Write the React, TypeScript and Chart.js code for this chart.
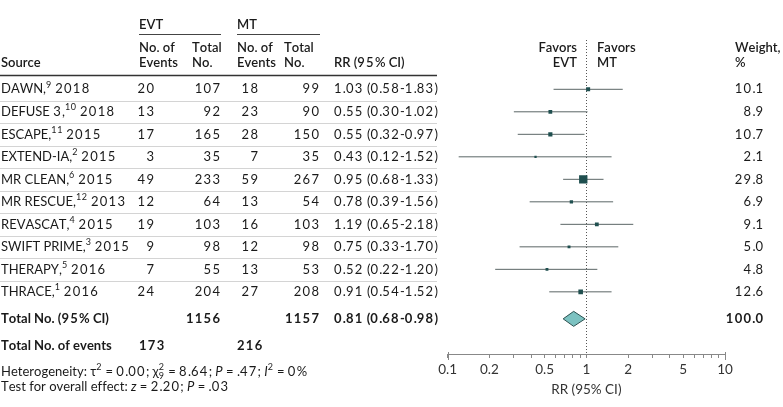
import React, { useEffect, useRef } from 'react';
import { Chart, registerables } from 'chart.js';

Chart.register(...registerables);

// ---------- data ----------
const studies = ['DAWN', 'DEFUSE 3', 'ESCAPE', 'EXTEND-IA', 'MR CLEAN', 'MR RESCUE', 'REVASCAT', 'SWIFT PRIME', 'THERAPY', 'THRACE'];
const refs = ['9', '10', '11', '2', '6', '12', '4', '3', '5', '1'];
const years = ['2018', '2018', '2015', '2015', '2015', '2013', '2015', '2015', '2016', '2016'];
const evtEvents = [20, 13, 17, 3, 49, 12, 19, 9, 7, 24];
const evtTotal = [107, 92, 165, 35, 233, 64, 103, 98, 55, 204];
const mtEvents = [18, 23, 28, 7, 59, 13, 16, 12, 13, 27];
const mtTotal = [99, 90, 150, 35, 267, 54, 103, 98, 53, 208];
const rr = [1.03, 0.55, 0.55, 0.43, 0.95, 0.78, 1.19, 0.75, 0.52, 0.91];
const ciLow = [0.58, 0.30, 0.32, 0.12, 0.68, 0.39, 0.65, 0.33, 0.22, 0.54];
const ciHigh = [1.83, 1.02, 0.97, 1.52, 1.33, 1.56, 2.18, 1.70, 1.20, 1.52];
const weights = [10.1, 8.9, 10.7, 2.1, 29.8, 6.9, 9.1, 5.0, 4.8, 12.6];
const pooledRR = [0.81, 0.68, 0.98]; // estimate, low, high
const totalNo = [1156, 1157]; // EVT, MT
const totalEvents = [173, 216]; // EVT, MT
const totalWeight = 100.0;
const axisTicks = [0.1, 0.2, 0.3, 0.4, 0.5, 0.6, 0.7, 0.8, 0.9, 1, 2, 3, 4, 5, 6, 7, 8, 9, 10];
const axisLabels = [0.1, 0.2, 0.5, 1, 2, 5, 10];

// ---------- layout ----------
const W = 783;
const H = 407;
const FONT = 'Lato, "DejaVu Sans", sans-serif';
const FS = 13;
const DIGIT_EXTRA = 1.3;
const TEXT = '#1a1a1a';
const ROW_TOTAL = 10.2;
const ROW_EVENTS = 11.4;
const TABLE_RIGHT = 437;

type Seg = { t?: string; i?: boolean; sup?: boolean; stack?: [string, string] };

const isDigit = (c: string) => c >= '0' && c <= '9';

function measureSpaced(ctx: CanvasRenderingContext2D, s: string, extra: number) {
  let w = 0;
  for (const ch of s) w += ctx.measureText(ch).width + (isDigit(ch) ? extra : 0);
  return w;
}

function drawSpaced(ctx: CanvasRenderingContext2D, s: string, x: number, y: number, extra: number) {
  let cx = x;
  ctx.textAlign = 'left';
  for (const ch of s) {
    ctx.fillText(ch, cx, y);
    cx += ctx.measureText(ch).width + (isDigit(ch) ? extra : 0);
  }
  return cx - x;
}

function drawRich(ctx: CanvasRenderingContext2D, segs: Seg[], x: number, y: number, weight = 400) {
  const base = `${weight} ${FS}px ${FONT}`;
  const small = `${weight} 9px ${FONT}`;
  let cx = x;
  ctx.textBaseline = 'middle';
  for (const s of segs) {
    if (s.stack) {
      ctx.font = small;
      const w = Math.max(ctx.measureText(s.stack[0]).width, ctx.measureText(s.stack[1]).width);
      ctx.textAlign = 'left';
      ctx.fillText(s.stack[0], cx, y - 4.5);
      ctx.fillText(s.stack[1], cx, y + 4);
      cx += w + 0.8;
    } else {
      ctx.font = s.sup ? small : s.i ? `italic ${base}` : base;
      cx += drawSpaced(ctx, s.t || '', cx, y + (s.sup ? -4.5 : 0), s.sup ? 0.6 : DIGIT_EXTRA);
    }
  }
}

function txt(ctx: CanvasRenderingContext2D, s: string, x: number, y: number, align: 'left' | 'right' = 'left', weight = 400) {
  ctx.font = `${weight} ${FS}px ${FONT}`;
  ctx.textBaseline = 'middle';
  let sx = x;
  if (align === 'right') {
    let w = measureSpaced(ctx, s, DIGIT_EXTRA);
    if (isDigit(s[s.length - 1])) w -= DIGIT_EXTRA;
    sx = x - w;
  }
  drawSpaced(ctx, s, sx, y, DIGIT_EXTRA);
}

function hline(ctx: CanvasRenderingContext2D, x1: number, x2: number, y: number, color: string, lw: number) {
  ctx.save();
  ctx.strokeStyle = color;
  ctx.lineWidth = lw;
  ctx.beginPath();
  ctx.moveTo(x1, y);
  ctx.lineTo(x2, y);
  ctx.stroke();
  ctx.restore();
}

const fmtCI = (a: number, b: number, c: number) => `${a.toFixed(2)} (${b.toFixed(2)}-${c.toFixed(2)})`;

const forestPlugin = {
  id: 'forestTable',
  beforeDatasetsDraw(chart: any) {
    const ctx: CanvasRenderingContext2D = chart.ctx;
    const xs = chart.scales.x;
    const area = chart.chartArea;
    const x1 = Math.round(xs.getPixelForValue(1)) + 0.5;
    ctx.save();
    ctx.strokeStyle = '#555';
    ctx.lineWidth = 1;
    ctx.setLineDash([1, 2]);
    ctx.beginPath();
    ctx.moveTo(x1, area.top);
    ctx.lineTo(x1, area.bottom);
    ctx.stroke();
    ctx.restore();
  },
  afterDraw(chart: any) {
    const ctx: CanvasRenderingContext2D = chart.ctx;
    const xs = chart.scales.x;
    const ys = chart.scales.y;
    const area = chart.chartArea;
    ctx.save();

    // longer end ticks on the axis
    ctx.strokeStyle = '#888';
    ctx.lineWidth = 1;
    [axisTicks[0], axisTicks[axisTicks.length - 1]].forEach((v) => {
      const px = Math.round(xs.getPixelForValue(v)) + 0.5;
      ctx.beginPath();
      ctx.moveTo(px, area.bottom - 2);
      ctx.lineTo(px, area.bottom + 6);
      ctx.stroke();
    });

    ctx.fillStyle = TEXT;
    // header
    txt(ctx, 'EVT', 139, 25, 'left', 600);
    txt(ctx, 'MT', 237, 25, 'left', 600);
    hline(ctx, 139, 221, 34.5, '#444', 1);
    hline(ctx, 237, 320, 34.5, '#444', 1);
    txt(ctx, 'No. of', 139, 48, 'left', 600);
    txt(ctx, 'Events', 139, 63, 'left', 600);
    txt(ctx, 'Total', 192, 48, 'left', 600);
    txt(ctx, 'No.', 192, 63, 'left', 600);
    txt(ctx, 'No. of', 237, 48, 'left', 600);
    txt(ctx, 'Events', 237, 63, 'left', 600);
    txt(ctx, 'Total', 284, 48, 'left', 600);
    txt(ctx, 'No.', 284, 63, 'left', 600);
    txt(ctx, 'Source', 1, 63, 'left', 600);
    txt(ctx, 'RR (95% CI)', 334, 63, 'left', 600);
    txt(ctx, 'Favors', 577, 48, 'right', 600);
    txt(ctx, 'EVT', 577, 63, 'right', 600);
    txt(ctx, 'Favors', 597, 48, 'left', 600);
    txt(ctx, 'MT', 597, 63, 'left', 600);
    txt(ctx, 'Weight,', 735, 48, 'left', 600);
    txt(ctx, '%', 735, 63, 'left', 600);
    hline(ctx, 0, TABLE_RIGHT, 75.5, '#333', 1.5);

    // rows
    studies.forEach((name, i) => {
      const y = ys.getPixelForValue(i);
      ctx.fillStyle = TEXT;
      drawRich(ctx, [{ t: name + ',' }, { t: refs[i], sup: true }, { t: ' ' + years[i] }], 1, y);
      txt(ctx, String(evtEvents[i]), 154, y, 'right');
      txt(ctx, String(evtTotal[i]), 220, y, 'right');
      txt(ctx, String(mtEvents[i]), 258, y, 'right');
      txt(ctx, String(mtTotal[i]), 319, y, 'right');
      txt(ctx, fmtCI(rr[i], ciLow[i], ciHigh[i]), 334, y, 'left');
      txt(ctx, weights[i].toFixed(1), 763, y, 'right');
      if (i < studies.length - 1) {
        const ys2 = Math.round(ys.getPixelForValue(i + 0.5)) + 0.5;
        hline(ctx, 0, TABLE_RIGHT, ys2, '#d4d4d4', 1);
      }
    });

    // totals
    ctx.fillStyle = TEXT;
    const yt = ys.getPixelForValue(ROW_TOTAL);
    txt(ctx, 'Total No. (95% CI)', 1, yt, 'left', 700);
    txt(ctx, String(totalNo[0]), 220, yt, 'right', 700);
    txt(ctx, String(totalNo[1]), 319, yt, 'right', 700);
    txt(ctx, fmtCI(pooledRR[0], pooledRR[1], pooledRR[2]), 334, yt, 'left', 700);
    txt(ctx, totalWeight.toFixed(1), 763, yt, 'right', 700);
    const ye = ys.getPixelForValue(ROW_EVENTS);
    txt(ctx, 'Total No. of events', 1, ye, 'left', 700);
    txt(ctx, String(totalEvents[0]), 139, ye, 'left', 700);
    txt(ctx, String(totalEvents[1]), 237, ye, 'left', 700);

    // footnotes
    drawRich(ctx, [
      { t: 'Heterogeneity: τ' }, { t: '2', sup: true }, { t: ' = 0.00; χ' }, { stack: ['2', '9'] },
      { t: ' = 8.64; ' }, { t: 'P', i: true }, { t: ' = .47; ' }, { t: 'I', i: true }, { t: '2', sup: true }, { t: ' = 0%' },
    ], 1, 372);
    drawRich(ctx, [
      { t: 'Test for overall effect: ' }, { t: 'z', i: true }, { t: ' = 2.20; ' }, { t: 'P', i: true }, { t: ' = .03' },
    ], 1, 387);

    // pooled diamond
    const xl = xs.getPixelForValue(pooledRR[1]);
    const xm = xs.getPixelForValue(pooledRR[0]);
    const xh = xs.getPixelForValue(pooledRR[2]);
    ctx.beginPath();
    ctx.moveTo(xl, yt);
    ctx.lineTo(xm, yt - 7.5);
    ctx.lineTo(xh, yt);
    ctx.lineTo(xm, yt + 7.5);
    ctx.closePath();
    ctx.fillStyle = '#7cc2c1';
    ctx.fill();
    ctx.strokeStyle = '#2c5150';
    ctx.lineWidth = 1;
    ctx.stroke();
    ctx.restore();
  },
};

export default function App() {
  const ref = useRef<HTMLCanvasElement | null>(null);
  useEffect(() => {
    if (!ref.current) return;
    const whiskers = studies.map((_, i) => ({
      data: [{ x: ciLow[i], y: i }, { x: ciHigh[i], y: i }],
      showLine: true,
      borderColor: '#5b6666',
      borderWidth: 1,
      pointRadius: 0,
      order: 2,
    }));
    const points = {
      data: studies.map((_, i) => ({ x: rr[i], y: i })),
      pointStyle: 'rect',
      pointRadius: weights.map((w) => (1.8 + 0.22 * w) / Math.SQRT2),
      backgroundColor: '#1f4f4f',
      borderWidth: 0,
      order: 1,
    };
    const chart = new Chart(ref.current, {
      type: 'scatter',
      data: { datasets: [...whiskers, points] as any },
      options: {
        animation: false,
        responsive: false,
        devicePixelRatio: 1,
        layout: { padding: { left: 447.7, right: 58, top: 40, bottom: 0 } },
        plugins: { legend: { display: false }, tooltip: { enabled: false } },
        scales: {
          x: {
            type: 'logarithmic',
            min: 0.1,
            max: 10,
            afterBuildTicks: (scale: any) => {
              scale.ticks = axisTicks.map((v) => ({ value: v }));
            },
            afterFit: (scale: any) => {
              scale.height = 53;
            },
            ticks: {
              autoSkip: false,
              maxRotation: 0,
              padding: 4,
              color: '#333',
              font: { family: FONT, size: 13.5 },
              callback: (v: any) => (axisLabels.includes(Number(v)) ? String(Number(v)) : ''),
            },
            grid: { drawOnChartArea: false, drawTicks: true, tickLength: 4, color: '#888' },
            border: { display: true, color: '#888' },
            title: {
              display: true,
              text: 'RR (95% CI)',
              color: '#333',
              font: { family: FONT, size: 13.5 },
              padding: { top: 0, bottom: 9 },
            },
          },
          y: {
            type: 'linear',
            min: -2.191,
            max: 11.762,
            reverse: true,
            display: false,
          },
        },
      } as any,
      plugins: [forestPlugin],
    });
    return () => chart.destroy();
  }, []);
  return (
    <div style={{ position: 'fixed', left: 0, top: 0, width: W, height: H, background: '#fff' }}>
      <canvas ref={ref} width={W} height={H} style={{ width: W, height: H, display: 'block' }} />
    </div>
  );
}
